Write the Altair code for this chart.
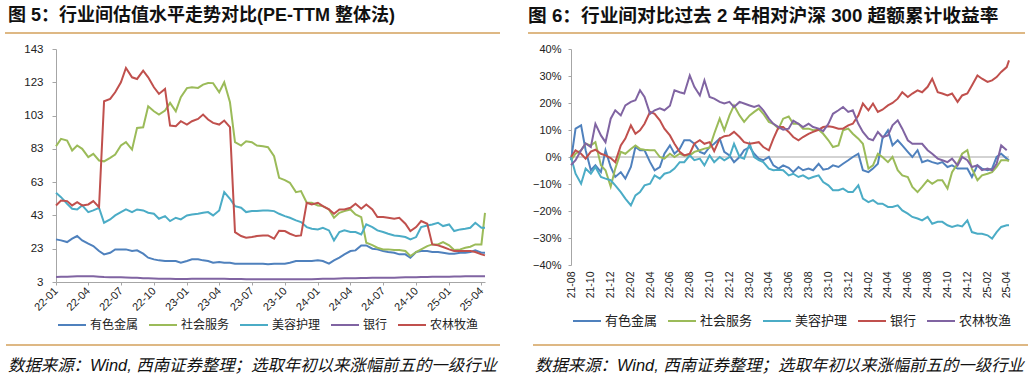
import altair as alt
import pandas as pd

# ---------------- data ----------------
NAMES = ["有色金属", "社会服务", "美容护理", "银行", "农林牧渔"]
LEFT_COLORS = ["#4F81BD", "#9BBB59", "#4BACC6", "#8064A2", "#C0504D"]
RIGHT_COLORS = ["#4F81BD", "#9BBB59", "#4BACC6", "#C0504D", "#8064A2"]

TITLE_L = "图 5：行业间估值水平走势对比(PE-TTM 整体法)"
TITLE_R = "图 6：行业间对比过去 2 年相对沪深 300 超额累计收益率"
SOURCE = "数据来源：Wind,  西南证券整理；选取年初以来涨幅前五的一级行业"

L_DATES = list(pd.date_range("2022-01-01", "2025-04-01", freq="SMS")) + [pd.Timestamp("2025-04-11")]
R_DATES = list(pd.date_range("2021-08-01", "2025-04-01", freq="SMS")) + [pd.Timestamp("2025-04-08")]

L_YTICKS = [3, 23, 43, 63, 83, 103, 123, 143]
R_YTICKS = [-40, -30, -20, -10, 0, 10, 20, 30, 40]

# left: PE-TTM
L_METAL = [28.6, 28, 27, 29, 30.6, 28, 26, 24.6, 21.6, 19.6,
           20.6, 22.6, 22.6, 22.6, 21.6, 22, 20, 17.6, 16.6, 16,
           15.6, 15.6, 15.6, 14.6, 15.6, 16.6, 16.6, 16, 15.6, 14.6,
           15, 14.6, 14.6, 14, 14, 14, 14, 14, 14, 13.6,
           14, 14, 14, 14.6, 15.6, 15.6, 15.6, 15.6, 16, 15.6,
           14, 16, 17.6, 19.6, 21.6, 22, 25, 25, 23, 22.6,
           21.6, 21, 20.6, 19.6, 19.6, 17.6, 21, 21.6, 21.6, 21,
           21, 20.6, 20, 20, 20.6, 20.6, 21, 22, 20.6,
           20.6]
L_SOCIAL = [84.6, 89, 88, 82, 85, 83, 78, 80, 76, 75.5,
            77.6, 79.6, 85, 87, 82.6, 95.6, 96, 108.6, 105.6, 103.6,
            106, 110.6, 105.5, 114, 119.5, 120, 119.6, 121.6, 122.6, 122.5,
            117, 123, 111, 87, 85, 87.6, 87, 85, 84.6, 84,
            78.6, 65.6, 64.2, 62.6, 57, 57.6, 50.6, 50.6, 49, 48.6,
            46.6, 41.6, 44.6, 45.6, 46.6, 43.6, 42, 26.6, 25.2, 23.6,
            22.6, 22.6, 22.2, 22.2, 21.6, 18.6, 21, 22.6, 24.6, 25.6,
            25.6, 27, 25, 22.2, 22.6, 23.6, 24.2, 25.6, 25.6,
            44.6]
L_BEAUTY = [56.6, 54, 50, 47, 46.6, 49, 45, 46, 47.5, 38.6,
            40.6, 43, 45, 46.6, 45, 46.6, 46, 44.6, 44, 41,
            42.6, 39.6, 41.6, 40.6, 43, 43.6, 44, 44.6, 45, 43,
            46, 57, 53, 48.6, 47.6, 45, 45.6, 45.6, 46, 46,
            45.6, 44, 42.6, 41.6, 40, 39, 36, 35, 34.6, 35.6,
            34, 28, 33, 34, 33, 33, 31.6, 37.6, 36, 34,
            33, 32, 31, 30.6, 30, 28.6, 30, 36, 37, 37.6,
            38.6, 36.6, 37.6, 33.6, 34.6, 35, 35.6, 38.6, 35.6,
            35.6]
L_BANK = [6.0, 6.1, 6.2, 6.3, 6.4, 6.5, 6.5, 6.4, 6.2, 6.0,
          5.9, 5.8, 5.8, 5.7, 5.6, 5.5, 5.3, 5.2, 5.1, 5.0,
          5.0, 4.9, 4.8, 4.8, 4.8, 4.9, 5.0, 5.0, 5.0, 4.9,
          4.9, 4.9, 4.8, 4.8, 4.8, 4.7, 4.7, 4.7, 4.7, 4.6,
          4.6, 4.6, 4.6, 4.6, 4.6, 4.6, 4.7, 4.7, 4.8, 4.9,
          5.0, 5.0, 5.1, 5.2, 5.3, 5.3, 5.4, 5.4, 5.5, 5.5,
          5.5, 5.6, 5.6, 5.7, 5.8, 5.8, 5.9, 6.0, 6.0, 6.1,
          6.1, 6.2, 6.2, 6.3, 6.3, 6.4, 6.4, 6.5, 6.5,
          6.5]
L_AGRI = [49, 52, 51.6, 49, 51, 49, 49.6, 51.6, 48, 111.6,
          113, 117, 123, 131.6, 126, 125, 130, 126, 120, 116,
          119, 97, 96.6, 99.6, 97.6, 99.6, 101, 103.6, 100.6, 98.6,
          97.6, 100, 96, 33, 30.6, 29.6, 30, 30.6, 31, 31,
          29, 33.8, 33.6, 32, 30.6, 31, 50.6, 49.6, 50.6, 48.6,
          46.6, 44, 46.6, 46.6, 47.6, 50, 47, 49.6, 46.6, 42,
          42, 41.6, 41, 41.6, 38, 33.6, 36, 39.6, 38, 25.6,
          25, 24, 22.6, 21.6, 21.6, 21.6, 21.6, 21, 19.6,
          19]

# right: excess return vs CSI 300 (%)
R_METAL = [-1.2, 10.5, 11.7, 2.5, -4.9, -3.1, -5.6, 2.5, -3.7, -7.4,
           -5.6, -8, -3.7, 3.7, 2.5, 2.5, -1.9, -4.9, -3.7, 1.2,
           4.3, 1.2, 3, 6.2, 6.2, 4.9, 1.9, 1.2, 3.7, 4.9,
           6.8, 1.9, 0.6, -1.9, 0, 2.5, 3.7, 1.2, -0.6, -1.2,
           0, -3.1, -4.3, -3.1, -4, -5.6, -3.7, -4.9, -4.3, -4.9,
           -2.5, -4.7, -4.3, -3.1, -3.7, -2.5, -1.2, 0, 1.2, -4.9,
           -5.6, -4.3, -2.5, 6.8, 9.9, 4.3, 6.2, 4.3, 1.9, 0,
           2.5, -1.9, -1.2, -1.9, -2.5, -1.9, -3.7, -3.1, -4.3, -4.3,
           -4.3, -7.4, -3.1, -4.3, -4.9, -4.3, 0, 1.2, -0.6,
           -1.2]
R_SOCIAL = [-1.2, 1.2, 2.5, 4.9, 4.3, 5.5, -3.1, -4.9, -11, -4.3,
            1.9, 1.2, 3, 4.3, 3, 2.7, 2.5, 2.5, 0, -0.6,
            1.2, 0, 1.2, 0.6, 0.6, 1.9, 2.5, 3.1, 3.5, 8.6,
            14.2, 9.9, 15.4, 19.1, 15.4, 13, 15.4, 16.7, 17.9, 16,
            13, 12.3, 10.5, 14.2, 15, 12.3, 12.3, 10.5, 10.5, 9.9,
            10.1, 8.6, 6.2, 3.7, 4.3, 9.9, 10.5, 8.6, 6.8, 4.9,
            -4.3, -3.1, 1.2, 0, -1.9, 0, -4.9, -6.8, -7.4, -11.1,
            -13, -11.1, -8.6, -9.9, -8.6, -8.6, -11.7, -5.6, -2.5, 1.2,
            2.5, -4.3, -8.6, -6.8, -6.2, -5.6, -3.7, -1.2, -1.2,
            -1.5]
R_BEAUTY = [0, -6.2, -9.9, -4.3, -6.2, -3.7, -7.4, -8, -8.6, -10.5,
            -13, -15.4, -17.9, -14.2, -13, -10.5, -9.9, -6.8, -8, -6.2,
            -5.6, -4.3, -1.9, -1.9, 0.6, -1.2, -0.6, -3.1, 0.6, -1.9,
            0, -1.2, 0, 4.9, 0, -0.6, 4.9, 0, -1.2, -1.9,
            -4.3, -4.9, -4.7, -4.9, -6.8, -6.2, -7.4, -6.8, -8, -7.4,
            -6.8, -9.3, -10.5, -12.3, -12.3, -11.7, -13, -13, -10.5, -15.4,
            -16.7, -16, -17.3, -17.3, -18.5, -18.5, -17.9, -19.8, -21, -22.2,
            -22.8, -23.5, -22.2, -24.7, -24, -24, -25.3, -25.9, -25.3, -25.7,
            -23.5, -27.8, -28.4, -28.4, -29, -30.2, -27.8, -25.9, -25.3,
            -25.3]
R_BANK = [0, 2.5, 1.2, -0.6, 2, 2.7, 1.2, 0.6, -0.4, -1.9,
          4.3, 6.8, 11.7, 8.6, 9.9, 12.3, 16.7, 16, 13.6, 10.5,
          8, 4.9, 1.9, 0.6, 1.2, 4.9, 6.2, 4.9, 5.5, 2.2,
          6.8, 7.7, 8, 9.3, 7.4, 5.5, 4.9, 5.2, 5.5, 3.7,
          2.5, 6.8, 11.1, 11.1, 9.3, 7.4, 6.2, 7.4, 8.6, 9.3,
          10.1, 11.1, 11.4, 11.1, 10.5, 10.5, 11.7, 12.3, 15.4, 19.8,
          17.3, 19.8, 16.7, 17.5, 19.1, 20, 21.6, 24, 22.2, 23.5,
          24.7, 24, 26, 29, 24, 23.5, 22.8, 23.5, 20.4, 22.8,
          23.5, 26.5, 30.2, 29, 27.8, 28.4, 29.6, 31.5, 33.3,
          35.8]
R_AGRI = [-3, -1.2, 2.5, 5, 3.7, 12.3, 8, 5.5, 14.2, 17.3,
          15.4, 19.1, 20.4, 21, 24.7, 22.2, 16, 17.3, 18, 17.3,
          19, 24.7, 24, 23.5, 30.2, 26, 22.8, 28.4, 22.2, 21.6,
          20.4, 19.8, 20.4, 18.5, 20.4, 19.8, 19.1, 18.5, 19.1, 17.3,
          14.2, 12.3, 11.1, 10.1, 10.5, 13.5, 12.3, 11.1, 12.3, 11.1,
          10.5, 9.6, 12.3, 16, 17.3, 18.5, 16.7, 17.3, 12.3, 9.3,
          6.8, 6.2, 9.3, 7.4, 8, 11.7, 13.6, 10.5, 6.2, 4.9,
          4.9, 4.9, 2.5, 1.2, -0.6, -1.2, -1.9, -0.6, -3.1, 0,
          -1.2, -3.7, -3.1, -4.9, -4.3, -4.9, -2.5, 4.3, 2.5,
          None]

# ---------------- styling ----------------
CJK = "Noto Sans CJK SC"
MIX = "Liberation Sans, Noto Sans CJK SC"
ORANGE = "#D3A05B"
GRAY = "#A6A6A6"
TXT = "#222222"

W_L, H_L = 429, 233
W_R, H_R = 438, 216


def dt(y, m, d=1):
    return alt.DateTime(year=y, month=m, date=d)


L_XTICKS = [dt(y, m) for y in (2022, 2023, 2024, 2025) for m in (1, 4, 7, 10) if (y, m) <= (2025, 4)]
R_XTICKS = [dt(2021 + (7 + 2 * k) // 12, (7 + 2 * k) % 12 + 1) for k in range(23)]


def to_long(dates, series_list, prefix):
    rows = []
    for name, vals in zip(NAMES, series_list):
        for d, v in zip(dates, vals):
            if v is not None:
                rows.append({prefix + "date": d, prefix + "series": name, prefix + "value": v})
    return pd.DataFrame(rows)


dfL = to_long(L_DATES, [L_METAL, L_SOCIAL, L_BEAUTY, L_BANK, L_AGRI], "L")
dfR = to_long(R_DATES, [R_METAL, R_SOCIAL, R_BEAUTY, R_BANK, R_AGRI], "R")


def text_layer(txt, x, y, size, weight="normal", style="normal", font=MIX):
    return alt.Chart(pd.DataFrame({"t": [txt]})).mark_text(
        align="left", baseline="middle", font=font, fontSize=size,
        fontWeight=weight, fontStyle=style, color="#111111"
    ).encode(x=alt.value(x), y=alt.value(y), text="t:N")


def hrule(x1, x2, y):
    return alt.Chart(pd.DataFrame({"a": [0]})).mark_rule(
        color=ORANGE, strokeWidth=1.5
    ).encode(x=alt.value(x1), x2=alt.value(x2), y=alt.value(y))


def legend(x, y, size, pad):
    return alt.Legend(
        title=None, orient="none", legendX=x, legendY=y, direction="horizontal",
        symbolType="stroke", symbolSize=784, symbolStrokeWidth=2,
        labelFont=CJK, labelFontSize=size, labelColor=TXT,
        columnPadding=pad, labelOffset=3, gridAlign="none",
    )


# ---------------- left panel ----------------
lines_L = alt.Chart(dfL).mark_line(strokeWidth=2).encode(
    x=alt.X("Ldate:T", title=None,
            scale=alt.Scale(domain=[dt(2022, 1, 1), dt(2025, 4, 11)], nice=False),
            axis=alt.Axis(values=L_XTICKS, format="%y-%m", labelAngle=315,
                          labelAlign="right", labelBaseline="middle",
                          labelFont="Liberation Sans", labelFontSize=11, labelColor=TXT,
                          labelFlush=False, labelOverlap=False, labelPadding=4,
                          tickSize=3, tickColor=GRAY, domainColor=GRAY, grid=False)),
    y=alt.Y("Lvalue:Q", title=None,
            scale=alt.Scale(domain=[3, 143], nice=False, zero=False),
            axis=alt.Axis(values=L_YTICKS, labelFont="Liberation Sans", labelFontSize=11.5,
                          labelColor=TXT, labelPadding=9, tickSize=4, tickColor=GRAY,
                          labelOverlap=False, labelFlush=False,
                          domainColor=GRAY, grid=False)),
    color=alt.Color("Lseries:N", scale=alt.Scale(domain=NAMES, range=LEFT_COLORS),
                    legend=legend(1, 261, 12, 6)),
)

left = alt.layer(
    lines_L,
    text_layer(TITLE_L, -48, -33, 18, weight="bold"),
    hrule(-51, 444, -16),
    hrule(-50, 444, 296),
    text_layer(SOURCE, -48, 317, 16.4, style="italic"),
).properties(width=W_L, height=H_L)

# ---------------- right panel ----------------
R_YAXIS = alt.Axis(values=R_YTICKS, labelExpr="format(datum.value, 'd') + '%'",
                   labelFont="Liberation Sans", labelFontSize=11,
                   labelColor=TXT, labelPadding=7, tickSize=3, tickColor=GRAY,
                   labelOverlap=False, labelFlush=False,
                   domainColor=GRAY, grid=False)
R_YSCALE = alt.Scale(domain=[-40, 40], nice=False, zero=False)

lines_R = alt.Chart(dfR).mark_line(strokeWidth=2).encode(
    x=alt.X("Rdate:T", title=None,
            scale=alt.Scale(domain=[dt(2021, 8, 1), dt(2025, 4, 8)], nice=False),
            axis=alt.Axis(values=R_XTICKS, format="%y-%m", labelAngle=270,
                          labelAlign="right", labelBaseline="middle",
                          labelFont="Liberation Sans", labelFontSize=10.5, labelColor=TXT,
                          labelFlush=False, labelOverlap=False, labelPadding=6,
                          ticks=False, domain=False, grid=False)),
    y=alt.Y("Rvalue:Q", title=None, scale=R_YSCALE, axis=R_YAXIS),
    color=alt.Color("Rseries:N", scale=alt.Scale(domain=NAMES, range=RIGHT_COLORS),
                    legend=legend(1, 257, 13, 6)),
)

zero_R = alt.Chart(pd.DataFrame({"Rvalue": [0]})).mark_rule(color=GRAY, strokeWidth=1).encode(
    y=alt.Y("Rvalue:Q", title=None, scale=R_YSCALE, axis=R_YAXIS)
)

right = alt.layer(
    zero_R,
    lines_R,
    text_layer(TITLE_R, -43, -33, 18.7, weight="bold"),
    hrule(-43, 454, -16),
    hrule(-38, 457, 296),
    text_layer(SOURCE, -36, 317, 16.4, style="italic"),
).properties(width=W_R, height=H_R)

chart = alt.hconcat(left, right, spacing=86, bounds="flush").resolve_scale(
    x="independent", y="independent", color="independent"
).resolve_legend(color="independent").configure_view(stroke=None).properties(
    padding={"left": 4, "top": 7, "right": 0, "bottom": 0}
)

chart.save("out.html", embed_options={"renderer": "svg", "actions": False})
